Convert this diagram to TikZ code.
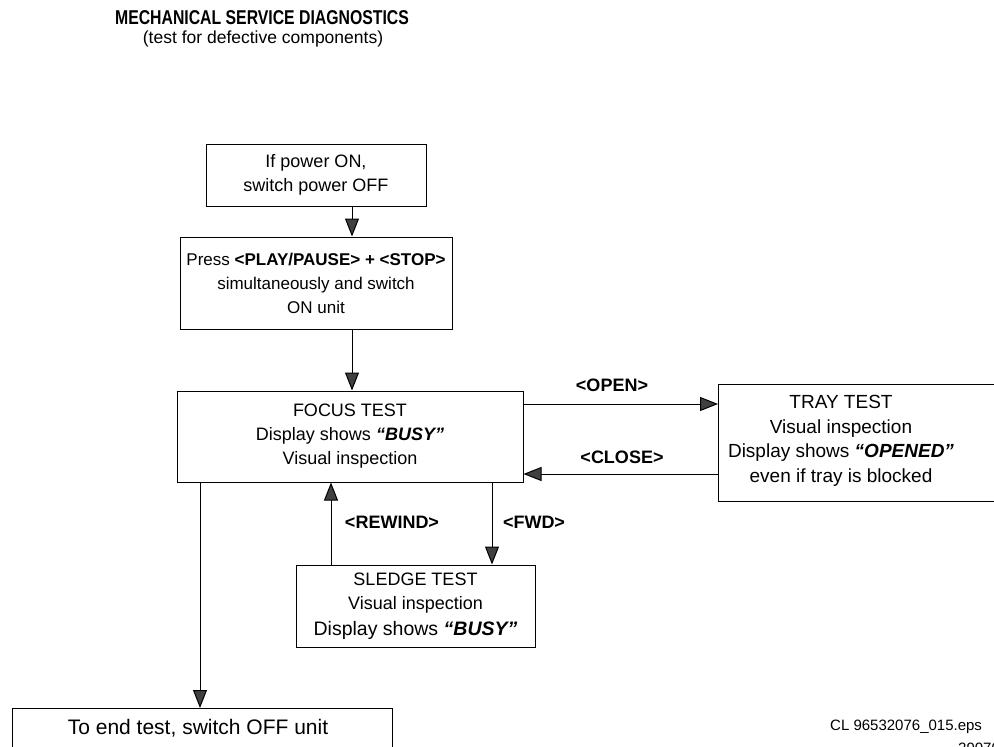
\documentclass[tikz,border=0pt]{standalone}
\usepackage{fontspec}
\setmainfont{Liberation Sans}
\newfontfamily\titlefont[FakeStretch=0.79]{Liberation Sans}
\usetikzlibrary{arrows.meta}
\newcommand\diagfont{\fontsize{18}{24}\selectfont}
\newcommand\smallerdiagfont{\fontsize{17}{24}\selectfont}
\begin{document}
\begin{tikzpicture}[x=1pt,y=-1pt,
  box/.style={draw, line width=1pt, inner sep=0pt, align=center, font=\diagfont},
  txt/.style={inner sep=0pt, align=center, font=\diagfont},
  lbl/.style={inner sep=0pt, font=\diagfont\bfseries},
  conn/.style={line width=1pt, -{Triangle[width=14pt,length=18pt,fill=black!75]}}]
\useasboundingbox (0,0) rectangle (994,747);
\clip (0,0) rectangle (994,747);
% title
\node[inner sep=0pt, font=\titlefont\fontsize{20}{22}\selectfont\bfseries] (title) at (262,18) {MECHANICAL SERVICE DIAGNOSTICS};
\node[inner sep=0pt, font=\fontsize{17.5}{20}\selectfont] (sub) at (263,39) {(test for defective components)};
% boxes
\node[box, minimum width=220pt, minimum height=62pt] (b1) at (316,175) {If power ON,\\switch power OFF};
\node[box, font=\smallerdiagfont, minimum width=272pt, minimum height=92pt] (b2) at (316,283) {Press \textbf{<PLAY/PAUSE> + <STOP>}\\simultaneously and switch\\ON unit};
\node[box, minimum width=346pt, minimum height=91pt] (focus) at (350,436.5) {FOCUS TEST\\Display shows \textbf{\textit{“BUSY”}}\\Visual inspection};
\node[draw, line width=1pt, minimum width=330pt, minimum height=117pt, anchor=north west] (tray) at (718,384) {};
\node[txt, font=\fontsize{19}{24.5}\selectfont] (traytext) at (841,441) {TRAY TEST\\Visual inspection\\Display shows \textbf{\textit{“OPENED”}}\\even if tray is blocked};
\node[box, minimum width=239pt, minimum height=82pt] (sledge) at (415.5,606) {SLEDGE TEST\\Visual inspection\\[2pt]{\fontsize{19.5}{24}\selectfont Display shows \textbf{\textit{“BUSY”}}}};
\node[draw, line width=1pt, minimum width=380pt, minimum height=60pt, anchor=north west] (end) at (12,708) {};
\node[txt, font=\fontsize{21}{24}\selectfont] (endtext) at (198,728) {To end test, switch OFF unit};
% helper coordinates
\coordinate (ax) at (352,0);
\coordinate (ex) at (200,0);
\coordinate (rx) at (331,0);
\coordinate (fx) at (492,0);
\coordinate (oy) at (0,404);
\coordinate (cy) at (0,474);
% connectors
\draw[conn] (b1.south -| ax) -- (b2.north -| ax);
\draw[conn] (b2.south -| ax) -- (focus.north -| ax);
\draw[conn] (focus.east |- oy) -- (tray.west |- oy);
\draw[conn] (tray.west |- cy) -- (focus.east |- cy);
\draw[conn] (sledge.north -| rx) -- (focus.south -| rx);
\draw[conn] (focus.south -| fx) -- (sledge.north -| fx);
\draw[conn] (focus.south -| ex) -- (end.north -| ex);
% labels
\node[lbl] (lopen) at (612,385) {<OPEN>};
\node[lbl] (lclose) at (622,457) {<CLOSE>};
\node[lbl] (lrew) at (392,522) {<REWIND>};
\node[lbl] (lfwd) at (534,522) {<FWD>};
% footer
\node[inner sep=0pt, anchor=west, font=\fontsize{15}{17}\selectfont] (foot) at (830,727) {CL 96532076\_015.eps};
\node[inner sep=0pt, anchor=base west, font=\fontsize{15}{17}\selectfont] (foot2) at (958,753) {290700};
\end{tikzpicture}
\end{document}
